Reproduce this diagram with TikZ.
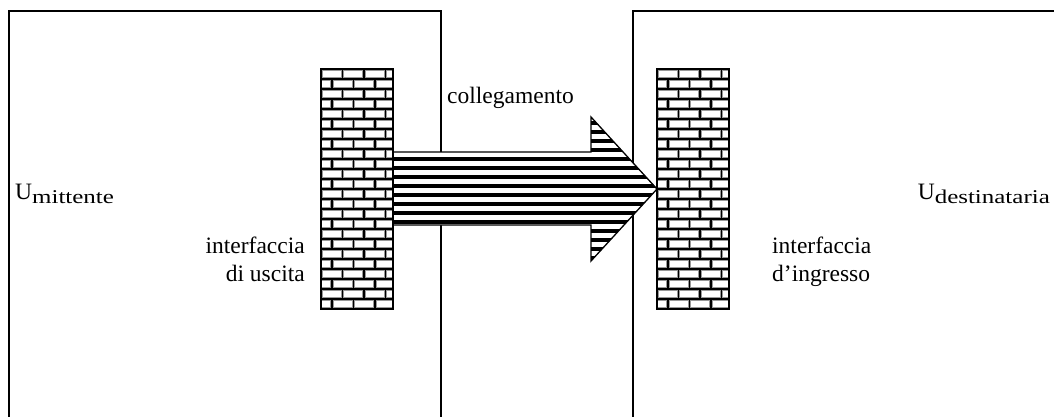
\documentclass[tikz,border=0pt]{standalone}
\usepackage{fontspec}
\setmainfont{Liberation Serif}
\tikzset{
  boxline/.style={line width=1.5pt},
  txt/.style={inner sep=0pt, font=\fontsize{23.5}{28}\selectfont},
  brick/.style={fill=white, draw=black!40, line width=0.7pt},
  mortar/.style={fill=black},
  arrowshape/.style={draw=black, line width=1.3pt},
  stripe/.style={line width=3.4pt, black}
}
\newcommand{\sub}[1]{\raisebox{-4pt}{\scalebox{1.28}[1]{\fontsize{19.5}{22}\selectfont #1}}}
\newcommand{\brickwall}[2]{%
  \begin{scope}
    \clip (#1,#2) rectangle ++(72,240);
    \fill[mortar] (#1,#2) rectangle ++(72,240);
    \foreach \r in {0,...,23} {
      \pgfmathsetmacro\off{mod(\r,2)==0 ? 0 : -10.75}
      \foreach \c in {0,...,4} {
        \path[brick] ({#1+\off+\c*21.5+1.3},{#2+\r*10+1.3}) rectangle ++(18.9,7.4);
      }
    }
  \end{scope}
  \draw[line width=1.2pt] (#1,#2) rectangle ++(72,240);
}
\begin{document}
\begin{tikzpicture}[x=1pt,y=-1pt]
\useasboundingbox (0,0) rectangle (1054,416);
% boxes (open at bottom)
\coordinate (lbl) at (9,420);
\coordinate (ltl) at (9,11);
\coordinate (ltr) at (441,11);
\coordinate (lbr) at (441,420);
\draw[boxline] (lbl) -- (ltl) -- (ltr) -- (lbr);
\coordinate (rbl) at (633,420);
\coordinate (rtl) at (633,11);
\coordinate (rtr) at (1056,11);
\draw[boxline] (rbl) -- (rtl) -- (rtr);
% arrow
\coordinate (a1) at (393,152);
\coordinate (a2) at (591,152);
\coordinate (a3) at (591,117);
\coordinate (tip) at (657,189);
\coordinate (a5) at (591,261);
\coordinate (a6) at (591,225);
\coordinate (a7) at (393,225);
\fill[white] (a1) -- (a2) -- (a3) -- (tip) -- (a5) -- (a6) -- (a7) -- cycle;
\begin{scope}
  \clip (a1) -- (a2) -- (a3) -- (tip) -- (a5) -- (a6) -- (a7) -- cycle;
  \foreach \k in {0,...,17} {
    \draw[stripe] (390,{114+\k*9}) -- (660,{114+\k*9});
  }
\end{scope}
\draw[arrowshape, line join=miter] (a1) -- (a2) -- (a3) -- (tip) -- (a5) -- (a6) -- (a7) -- cycle;
% walls
\brickwall{321}{69}
\brickwall{657}{69}
% texts
\node[txt, anchor=base west] (coll) at (447,103) {collegamento};
\node[txt, anchor=base west] (um) at (15,199) {U\sub{mittente}};
\node[txt, anchor=base east] (ud) at (1050,199) {U\sub{destinataria}};
\node[txt, anchor=base east, align=right] (ifu) at (305,281) {interfaccia\\di uscita};
\node[txt, anchor=base west, align=left] (ifi) at (772,281) {interfaccia\\d’ingresso};
\end{tikzpicture}
\end{document}
